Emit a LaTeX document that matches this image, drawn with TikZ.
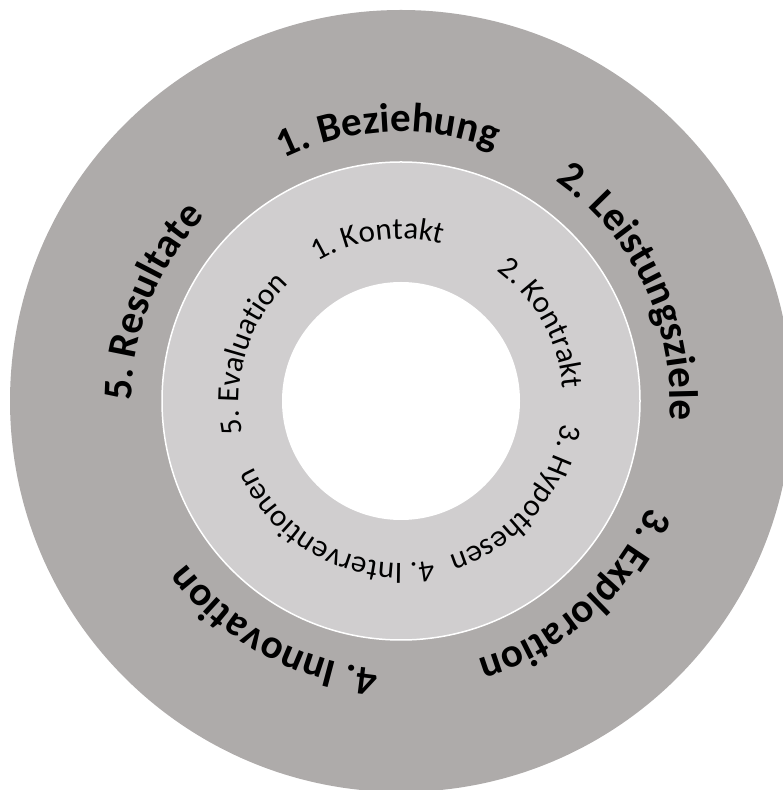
\documentclass[tikz,border=0pt]{standalone}
\usepackage{fontspec}
\setmainfont{Carlito}
\usetikzlibrary{decorations.text}
\definecolor{outergray}{RGB}{174,171,170}
\definecolor{midgray}{RGB}{208,206,207}
\tikzset{
  outerlbl/.style={decorate, decoration={text along path, text align=center,
      text={|\bfseries\fontsize{41}{44}\selectfont|#1}}},
  innerlbl/.style={decorate, decoration={text along path, text align=center,
      text={|\fontsize{31}{34}\selectfont|#1}}},
}
\begin{document}
\begin{tikzpicture}[x=1pt,y=1pt]
\useasboundingbox (0,0) rectangle (782,790);
\coordinate (c) at (401,389);
\fill[outergray] (c) circle[radius=391];
\filldraw[fill=midgray, draw=white, line width=1.5pt] (c) circle[radius=239];
\fill[white] (c) circle[radius=119];
% outer labels (baseline radius 269)
\path[outerlbl={1. Beziehung}] (c) ++(152.8:269) arc[start angle=152.8, end angle=32.8, radius=269];
\path[outerlbl={2. Leistungsziele}] (c) ++(85.5:269) arc[start angle=85.5, end angle=-34.5, radius=269];
\path[outerlbl={3. Exploration}] (c) ++(11.7:269) arc[start angle=11.7, end angle=-108.3, radius=269];
\path[outerlbl={4. Innovation}] (c) ++(-58.9:269) arc[start angle=-58.9, end angle=-178.9, radius=269];
\path[outerlbl={5. Resultate}] (c) ++(218.3:269) arc[start angle=218.3, end angle=98.3, radius=269];
% inner labels (baseline radius 162)
\path[innerlbl={1. Kontakt}] (c) ++(158.2:162) arc[start angle=158.2, end angle=38.2, radius=162];
\path[innerlbl={2. Kontrakt}] (c) ++(89:162) arc[start angle=89, end angle=-31, radius=162];
\path[innerlbl={3. Hypothesen}] (c) ++(19.6:162) arc[start angle=19.6, end angle=-100.4, radius=162];
\path[innerlbl={4. Interventionen}] (c) ++(-57.3:162) arc[start angle=-57.3, end angle=-177.3, radius=162];
\path[innerlbl={5. Evaluation}] (c) ++(222.6:162) arc[start angle=222.6, end angle=102.6, radius=162];
\end{tikzpicture}
\end{document}
